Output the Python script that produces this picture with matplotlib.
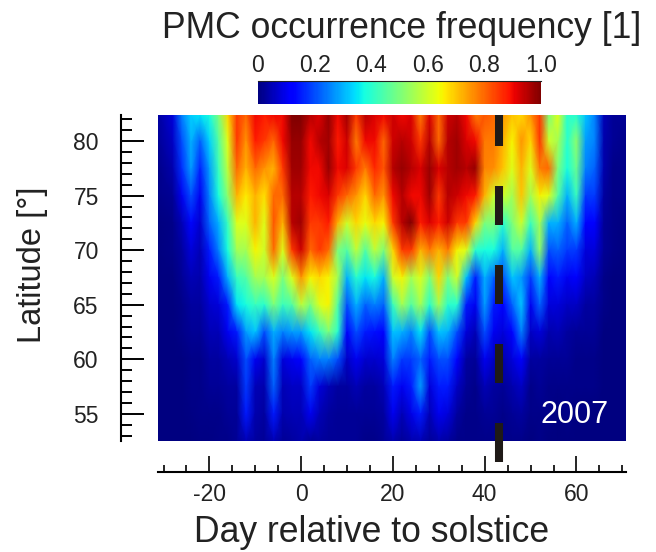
import numpy as np
import matplotlib
matplotlib.use("Agg")
import matplotlib.pyplot as plt
from matplotlib.ticker import MultipleLocator

plt.rcParams["font.family"] = ["Liberation Sans", "DejaVu Sans"]

# day axis, ends stretched to the edge of the plotted field
days = [-31.2] + list(range(-28, 70, 2)) + [70.8]
lats = [82.4, 80, 77.5, 75, 72.5, 70, 67.5, 65, 62.5, 60, 57.5, 55, 52.5]

# PMC occurrence frequency, one list per latitude
f_824 = [.03,.08,.25,.33,.35,.38,.5,.68,.85,.8,.9,.88,.9,.9,1,1,.95,.92,.98,.9,.97,.85,.95,.92,.9,
         .93,.9,.92,.78,.92,.8,.93,.95,.9,.78,.82,.8,.75,.7,.68,.75,.85,.5,.62,.4,.4,.32,.25,.05,.02,.02]
f_80 = [.02,.06,.2,.3,.22,.33,.45,.62,.85,.75,.88,.85,.8,.9,.98,.98,.9,.95,.97,.88,.93,.78,.9,.9,.8,
        .93,.95,.93,.85,.95,.8,.95,.97,.92,.9,.78,.78,.72,.65,.75,.68,.85,.6,.55,.4,.52,.28,.25,.04,.02,.01]
f_775 = [.01,.04,.17,.28,.16,.28,.42,.58,.8,.72,.8,.75,.72,.85,.97,.97,.9,.9,.98,.9,.92,.85,.78,.87,.82,
         .95,.98,.95,.92,.98,.92,.95,.97,.95,.98,.77,.76,.7,.62,.72,.62,.78,.8,.5,.38,.48,.25,.22,.04,.01,.01]
f_75 = [.01,.02,.1,.2,.1,.25,.38,.52,.72,.66,.72,.67,.8,.8,.95,.95,.88,.9,.92,.85,.8,.75,.68,.8,.75,
        .9,.95,.9,.9,.97,.85,.95,.93,.9,.88,.72,.6,.6,.55,.7,.55,.65,.62,.45,.3,.42,.18,.18,.03,.01,.01]
f_725 = [0,.01,.05,.13,.07,.22,.3,.42,.62,.62,.72,.62,.82,.72,.95,.97,.85,.85,.88,.72,.6,.68,.63,.68,.65,
         .85,.95,1,.88,.92,.88,.93,.85,.85,.68,.5,.5,.4,.5,.6,.42,.55,.3,.3,.22,.3,.12,.12,.02,.01,0]
f_70 = [0,.01,.03,.08,.05,.15,.25,.38,.55,.55,.65,.6,.8,.62,.85,.93,.8,.85,.8,.5,.45,.58,.45,.58,.5,
        .68,.85,.85,.72,.78,.72,.78,.65,.62,.4,.38,.38,.3,.45,.45,.3,.52,.2,.22,.18,.18,.08,.08,.02,.01,0]
f_675 = [0,0,.02,.05,.04,.1,.15,.3,.42,.45,.55,.55,.62,.5,.62,.75,.65,.68,.65,.55,.3,.4,.35,.38,.3,
         .6,.65,.55,.62,.5,.68,.5,.6,.32,.15,.3,.22,.2,.32,.28,.18,.3,.12,.15,.1,.12,.06,.05,.01,0,0]
f_65 = [0,0,.01,.03,.03,.07,.08,.15,.35,.38,.42,.4,.5,.42,.45,.58,.5,.62,.65,.45,.2,.3,.22,.25,.22,
        .42,.55,.45,.55,.4,.55,.4,.4,.15,.1,.28,.15,.12,.22,.32,.1,.22,.08,.08,.06,.06,.03,.03,.01,0,0]
f_625 = [0,0,.01,.02,.02,.05,.05,.1,.15,.28,.32,.2,.3,.25,.28,.28,.35,.42,.5,.4,.12,.2,.15,.14,.12,
         .32,.3,.25,.35,.2,.32,.3,.2,.08,.05,.2,.1,.08,.12,.25,.06,.08,.04,.05,.03,.02,.02,.02,0,0,0]
f_60 = [0,0,0,.01,.01,.03,.03,.05,.07,.2,.1,.07,.25,.08,.1,.12,.22,.25,.25,.2,.06,.1,.07,.07,.08,
        .25,.18,.18,.22,.15,.2,.2,.12,.03,.02,.1,.06,.04,.08,.12,.03,.03,.02,.02,.02,.01,.01,.01,0,0,0]
f_575 = [0,0,0,.01,.01,.02,.02,.03,.03,.18,.05,.04,.22,.05,.06,.06,.18,.08,.05,.03,.03,.05,.03,.03,.05,
         .15,.1,.15,.28,.08,.15,.15,.06,.02,.01,.05,.03,.02,.04,.06,.01,.02,.01,.01,.01,.01,.01,.01,0,0,0]
f_55 = [0,0,0,.005,.01,.01,.01,.02,.02,.15,.04,.03,.15,.04,.05,.05,.1,.05,.03,.02,.02,.02,.02,.02,.03,
        .1,.05,.09,.15,.05,.1,.08,.03,.01,.01,.02,.02,.01,.02,.03,.01,.01,.01,0,.01,0,0,0,0,0,0]
f_525 = [0,0,0,0,.005,.005,.01,.01,.02,.05,.03,.02,.05,.02,.03,.04,.02,.03,.02,.02,.02,.02,.01,.01,.02,
         .04,.02,.04,.05,.02,.04,.03,.01,.01,.01,.01,.01,.01,.01,.01,0,.01,0,0,0,0,0,0,0,0,0]
freq = np.array([f_824, f_80, f_775, f_75, f_725, f_70, f_675, f_65, f_625, f_60, f_575, f_55, f_525])

solstice_line = 43.1
year = "2007"
cbar_ticks = [0, 0.2, 0.4, 0.6, 0.8, 1.0]
cbar_labels = ["0", "0.2", "0.4", "0.6", "0.8", "1.0"]

W, H = 656, 552
dark = "#222222"

def px_axes(x0, y0, x1, y1):
    return fig.add_axes([x0/W, 1-y1/H, (x1-x0)/W, (y1-y0)/H])

fig = plt.figure(figsize=(W/100, H/100), dpi=100)
ax = px_axes(158, 115, 626, 441)
mesh = ax.pcolormesh(days, lats, freq, cmap="jet", vmin=0, vmax=1, shading="gouraud")
ax.set_xlim(-31.2, 70.8)
ax.set_ylim(52.5, 82.4)

for s in ["top", "right"]:
    ax.spines[s].set_visible(False)
ax.spines["left"].set_position(("outward", 26.6))
ax.spines["bottom"].set_position(("outward", 22.3))
ax.spines["left"].set_linewidth(1.5)
ax.spines["bottom"].set_linewidth(1.5)
ax.xaxis.set_major_locator(MultipleLocator(20))
ax.xaxis.set_minor_locator(MultipleLocator(5))
ax.yaxis.set_major_locator(MultipleLocator(5))
ax.yaxis.set_minor_locator(MultipleLocator(1))
ax.tick_params(axis="x", which="major", direction="in", length=11.5, width=1.2, pad=8, labelsize=16.5, labelcolor=dark)
ax.tick_params(axis="x", which="minor", direction="in", length=5, width=1.2)
ax.tick_params(axis="y", which="major", direction="in", length=16.6, width=1.4, pad=16, labelsize=16.5, labelcolor=dark)
ax.tick_params(axis="y", which="minor", direction="in", length=8, width=1.4)
ax.set_xticks([-20, 0, 20, 40, 60], ["-20", "0", "20", "40", "60"])

ax.plot([solstice_line, solstice_line], [50.6, 82.4], color="#1f1a17", lw=5.8, clip_on=False,
        dash_capstyle="butt", scalex=False, scaley=False,
        linestyle=(0, (39*0.72/5.8, 40*0.72/5.8)))
fig.text(575/W, 1-415/H, year, color="white", fontsize=22, ha="center", va="center")

fig.text(33/W, 1-265/H, "Latitude [°]", rotation=90, fontsize=23.5, ha="center", va="center", color=dark)
fig.text(372/W, 1-533/H, "Day relative to solstice", fontsize=25.6, ha="center", va="center", color=dark)
fig.text(402/W, 1-28/H, "PMC occurrence frequency [1]", fontsize=25.6, ha="center", va="center", color=dark)

cax = px_axes(258, 81, 541, 104)
cb = fig.colorbar(mesh, cax=cax, orientation="horizontal", ticks=cbar_ticks)
cb.outline.set_visible(False)
cax.xaxis.set_ticks_position("top")
cax.set_xticklabels(cbar_labels)
cax.tick_params(axis="x", length=0, pad=3, labelsize=16.5, labelcolor=dark)
cax.axhline(1, color="#222222", lw=0.8, clip_on=False)

fig.savefig("out.png", dpi=100)
